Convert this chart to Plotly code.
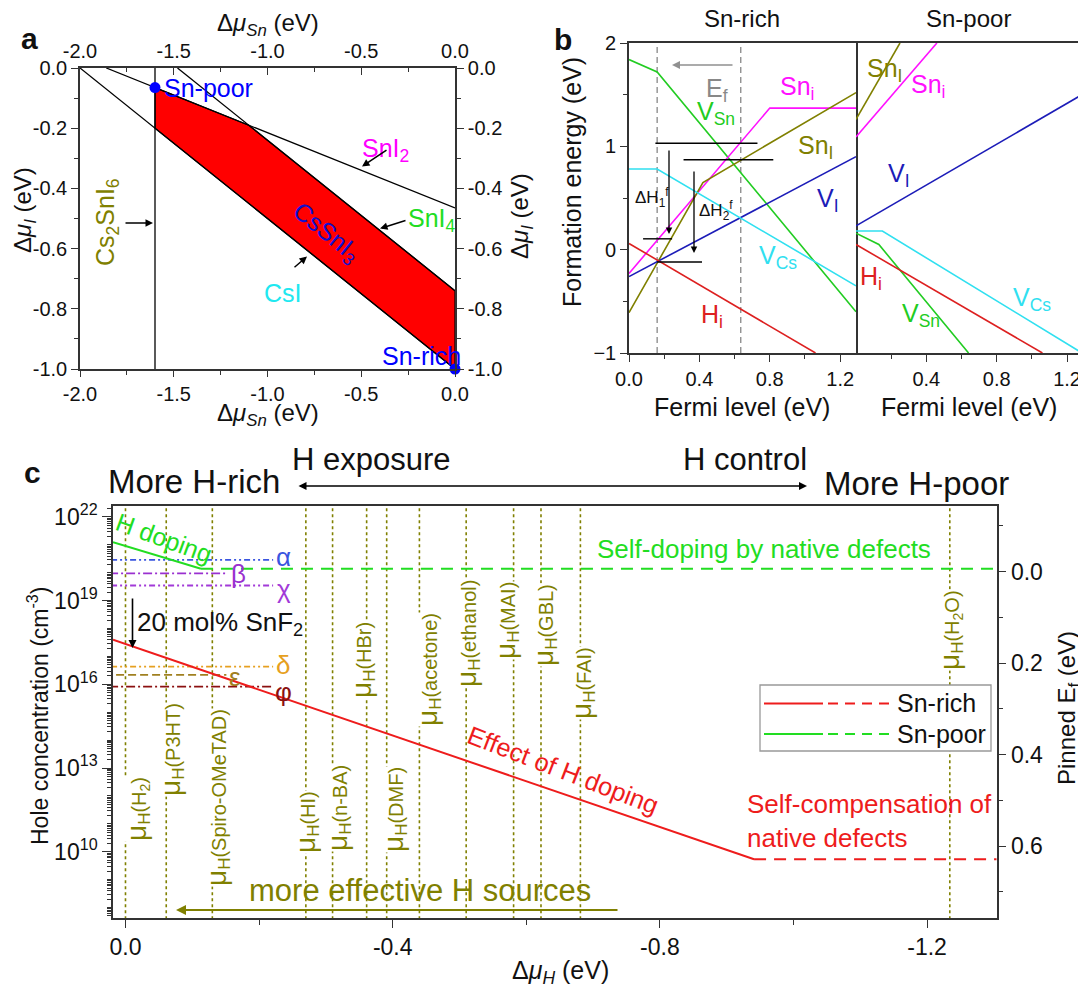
import plotly.graph_objects as go

# The page adds an 8 px body margin, so the figure is drawn 8 px smaller and
# every layout position (given in reference pixels) is shifted by that margin.
OFF = 8
W, H = 1086 - OFF, 996 - OFF
FONT = "Arial, Liberation Sans, Helvetica, sans-serif"


def PX(x):
    return (x - OFF) / W


def PY(y):
    return 1 - (y - OFF) / H


# ---------------- Panel a data ----------------
a_sn_ticks = [-2.0, -1.5, -1.0, -0.5, 0.0]
a_sn_ticktext = ["-2.0", "-1.5", "-1.0", "-0.5", "0.0"]
a_sn_minor = [-1.75, -1.25, -0.75, -0.25]
a_i_ticks = [0.0, -0.2, -0.4, -0.6, -0.8, -1.0]
a_i_ticktext = ["0.0", "-0.2", "-0.4", "-0.6", "-0.8", "-1.0"]
a_i_minor = [-0.1, -0.3, -0.5, -0.7, -0.9]

cs2sni6_x = [-1.6, -1.6]
cs2sni6_y = [0.0, -1.0]
csi_x = [-2.0, 0.0]
csi_y = [0.0, -1.0]
sni2_x = [-1.86, 0.0]
sni2_y = [0.0, -0.465]
sni4_x = [-1.48, 0.0]
sni4_y = [0.0, -0.74]
cssni3_x = [-1.6, -1.1, 0.0, 0.0, -1.6, -1.6]
cssni3_y = [-0.065, -0.19, -0.74, -1.0, -0.2, -0.065]
point_x = [-1.6, 0.0]
point_y = [-0.065, -1.0]

# ---------------- Panel b data ----------------
fermi_ticks = [0.0, 0.4, 0.8, 1.2]
fermi_ticktext = ["0.0", "0.4", "0.8", "1.2"]
fermi_minor = [0.2, 0.6, 1.0]
e_ticks = [-1, 0, 1, 2]
e_minor = [-0.5, 0.5, 1.5]

rich_vsn_x = [0.0, 0.16, 1.29]
rich_vsn_y = [1.84, 1.72, -0.60]
rich_sni_x = [0.0, 0.80, 1.29]
rich_sni_y = [-0.23, 1.37, 1.37]
rich_snI_x = [0.0, 0.42, 1.29]
rich_snI_y = [-0.61, 0.65, 1.52]
rich_vi_x = [0.0, 1.29]
rich_vi_y = [-0.26, 0.90]
rich_vcs_x = [0.0, 0.16, 1.29]
rich_vcs_y = [0.78, 0.78, -0.35]
rich_hi_x = [0.0, 1.06]
rich_hi_y = [0.06, -1.0]

poor_snI_x = [0.0, 0.25]
poor_snI_y = [1.26, 2.0]
poor_sni_x = [0.0, 0.46]
poor_sni_y = [1.09, 2.0]
poor_vi_x = [0.0, 1.285]
poor_vi_y = [0.23, 1.50]
poor_vcs_x = [0.0, 0.15, 1.285]
poor_vcs_y = [0.18, 0.18, -1.0]
poor_vsn_x = [0.0, 0.13, 0.64]
poor_vsn_y = [0.16, 0.05, -1.0]
poor_hi_x = [0.0, 1.06]
poor_hi_y = [0.05, -1.0]

ef_window = [0.16, 0.635]
level_x0 = [0.15, 0.31, 0.08, 0.16]
level_x1 = [0.73, 0.82, 0.245, 0.415]
level_y = [1.03, 0.87, 0.105, -0.12]

# ---------------- Panel c data ----------------
dmu_ticks = [0.0, -0.4, -0.8, -1.2]
dmu_ticktext = ["0.0", "-0.4", "-0.8", "-1.2"]
dmu_minor = [-0.2, -0.6, -1.0]
p_ticks = [1e10, 1e13, 1e16, 1e19, 1e22]
p_ticktext = ["10<sup>10</sup>", "10<sup>13</sup>", "10<sup>16</sup>", "10<sup>19</sup>", "10<sup>22</sup>"]
ef_ticks = [0.0, 0.2, 0.4, 0.6]
ef_ticktext = ["0.0", "0.2", "0.4", "0.6"]
ef_minor = [-0.1, 0.1, 0.3, 0.5, 0.7]

sn_rich_x = [0.0187, -0.941]
sn_rich_p = [4.0e17, 5.4e9]
sn_rich_flat_x = [-0.941, -1.35]
sn_rich_flat_p = [5.4e9, 5.4e9]
sn_poor_x = [0.0187, -0.113]
sn_poor_p = [1.26e21, 1.4e20]
sn_poor_flat_x = [-0.113, -1.35]
sn_poor_flat_p = [1.4e20, 1.4e20]

source_names = ["H<sub>2</sub>", "P3HT", "Spiro-OMeTAD", "HI", "n-BA", "HBr", "DMF",
                "acetone", "ethanol", "MAI", "GBL", "FAI", "H<sub>2</sub>O"]
source_mu = [0.0, -0.061, -0.130, -0.270, -0.310, -0.361, -0.391,
             -0.440, -0.510, -0.581, -0.622, -0.681, -1.234]
# label placement (pixel centres)
source_lab_x = [137, 171, 217, 306, 338, 362, 394, 428, 467, 506, 544, 582, 950]
source_lab_y = [809, 750, 798, 822, 808, 660, 810, 670, 634, 621, 625, 683, 630]

greek_names = ["α", "β", "χ", "δ", "ε", "φ"]
greek_p = [2.9e20, 9.5e19, 3.5e19, 4.3e16, 2.2e16, 8.3e15]
greek_end = [-0.221, -0.151, -0.221, -0.221, -0.151, -0.221]
greek_colors = ["#3a55e0", "#9a30d0", "#a23ad8", "#e6a020", "#a08020", "#8b1010"]
greek_dash = ["6px,3px,2px,3px,2px,3px", "9px,3px,2px,3px", "6px,3px,2px,3px,2px,3px",
              "6px,3px,2px,3px,2px,3px", "8px,4px", "9px,3px,2px,3px"]
greek_lab_x = [283, 238, 284, 283, 235, 283]
greek_lab_y = [557, 574, 589, 665, 677, 692]

# ---------------- colours ----------------
C_VSN = "#22cc22"
C_SNI = "#ff10ff"
C_SNIL = "#808000"
C_VI = "#1c1cb8"
C_VCS = "#30e0f0"
C_HI = "#dd2020"
OLIVE = "#808000"
RED = "#ee1c1c"
GREEN = "#22dd22"

fig = go.Figure()

# ---------- panel a traces ----------
fig.add_trace(go.Scatter(x=cssni3_x, y=cssni3_y, fill="toself", fillcolor="#ff0000",
                         mode="lines", line=dict(color="black", width=1.2),
                         xaxis="x", yaxis="y", showlegend=False, hoverinfo="skip"))
for lx, ly in [(cs2sni6_x, cs2sni6_y), (csi_x, csi_y), (sni2_x, sni2_y), (sni4_x, sni4_y)]:
    fig.add_trace(go.Scatter(x=lx, y=ly, mode="lines", line=dict(color="black", width=1.3),
                             xaxis="x", yaxis="y", showlegend=False, hoverinfo="skip"))
fig.add_trace(go.Scatter(x=point_x, y=point_y, mode="markers",
                         marker=dict(color="#0000ff", size=11), cliponaxis=False,
                         xaxis="x", yaxis="y", showlegend=False, hoverinfo="skip"))
fig.add_trace(go.Scatter(x=[-1.0], y=[-0.5], mode="markers", marker=dict(opacity=0),
                         xaxis="x2", yaxis="y2", showlegend=False, hoverinfo="skip"))


# ---------- panel b traces ----------
def bline(x, y, color, xa, ya, dash=None, width=1.6):
    fig.add_trace(go.Scatter(x=x, y=y, mode="lines", line=dict(color=color, width=width, dash=dash),
                             xaxis=xa, yaxis=ya, showlegend=False, hoverinfo="skip"))


for xv in ef_window:
    bline([xv, xv], [-1, 2], "#909090", "x3", "y3", dash="6px,4px", width=1.4)
bline(rich_vsn_x, rich_vsn_y, C_VSN, "x3", "y3")
bline(rich_sni_x, rich_sni_y, C_SNI, "x3", "y3")
bline(rich_snI_x, rich_snI_y, C_SNIL, "x3", "y3")
bline(rich_vi_x, rich_vi_y, C_VI, "x3", "y3")
bline(rich_vcs_x, rich_vcs_y, C_VCS, "x3", "y3")
bline(rich_hi_x, rich_hi_y, C_HI, "x3", "y3")
for x0, x1, yv in zip(level_x0, level_x1, level_y):
    bline([x0, x1], [yv, yv], "black", "x3", "y3", width=1.4)

bline(poor_snI_x, poor_snI_y, C_SNIL, "x4", "y4")
bline(poor_sni_x, poor_sni_y, C_SNI, "x4", "y4")
bline(poor_vi_x, poor_vi_y, C_VI, "x4", "y4")
bline(poor_vcs_x, poor_vcs_y, C_VCS, "x4", "y4")
bline(poor_vsn_x, poor_vsn_y, C_VSN, "x4", "y4")
bline(poor_hi_x, poor_hi_y, C_HI, "x4", "y4")

# ---------- panel c traces ----------
for mu in source_mu:
    fig.add_trace(go.Scatter(x=[mu, mu], y=[1e5, 1e25], mode="lines",
                             line=dict(color=OLIVE, width=1.6, dash="dot"),
                             xaxis="x5", yaxis="y5", showlegend=False, hoverinfo="skip"))
for pv, xe, col, dsh in zip(greek_p, greek_end, greek_colors, greek_dash):
    fig.add_trace(go.Scatter(x=[0.05, xe], y=[pv, pv], mode="lines",
                             line=dict(color=col, width=1.8, dash=dsh),
                             xaxis="x5", yaxis="y5", showlegend=False, hoverinfo="skip"))
fig.add_trace(go.Scatter(x=sn_poor_flat_x, y=sn_poor_flat_p, mode="lines",
                         line=dict(color=GREEN, width=2, dash="12px,8px"),
                         xaxis="x5", yaxis="y5", showlegend=False, hoverinfo="skip"))
fig.add_trace(go.Scatter(x=sn_poor_x, y=sn_poor_p, mode="lines",
                         line=dict(color=GREEN, width=2),
                         xaxis="x5", yaxis="y5", showlegend=False, hoverinfo="skip"))
fig.add_trace(go.Scatter(x=sn_rich_flat_x, y=sn_rich_flat_p, mode="lines",
                         line=dict(color=RED, width=2, dash="12px,8px"),
                         xaxis="x5", yaxis="y5", showlegend=False, hoverinfo="skip"))
fig.add_trace(go.Scatter(x=sn_rich_x, y=sn_rich_p, mode="lines",
                         line=dict(color=RED, width=2),
                         xaxis="x5", yaxis="y5", showlegend=False, hoverinfo="skip"))
fig.add_trace(go.Scatter(x=[-0.5], y=[0.3], mode="markers", marker=dict(opacity=0),
                         xaxis="x5", yaxis="y6", showlegend=False, hoverinfo="skip"))

# ---------- axes ----------
LINE = "#333333"
base = dict(showline=True, linecolor=LINE, linewidth=1.6, showgrid=False, zeroline=False,
            automargin=False, tickcolor=LINE, tickwidth=1.4,
            tickfont=dict(size=20, color="#111", family=FONT))
a_x = dict(range=[-2, 0], tickmode="array", tickvals=a_sn_ticks, ticktext=a_sn_ticktext)
a_y = dict(range=[-1, 0], tickmode="array", tickvals=a_i_ticks, ticktext=a_i_ticktext)


def mnr(vals, ticks="outside", ln=4):
    return dict(tickmode="array", tickvals=vals, ticks=ticks, ticklen=ln, tickcolor=LINE)


layout_axes = dict(
    xaxis=dict(domain=[PX(80), PX(455)], anchor="y", ticks="outside", ticklen=6,
               minor=mnr(a_sn_minor), **a_x, **base),
    yaxis=dict(domain=[PY(369), PY(68)], anchor="x", ticks="outside", ticklen=7,
               minor=mnr(a_i_minor), **a_y, **base),
    xaxis2=dict(overlaying="x", side="top", anchor="y2", ticks="inside", ticklen=7,
                minor=mnr(a_sn_minor, "inside"), **a_x, **base),
    yaxis2=dict(overlaying="y", side="right", anchor="x2", ticks="outside", ticklen=7,
                minor=mnr(a_i_minor), **a_y, **base),
    xaxis3=dict(domain=[PX(629), PX(856)], anchor="y3", range=[0, 1.29], mirror=True,
                tickmode="array", tickvals=fermi_ticks, ticktext=fermi_ticktext,
                ticks="outside", ticklen=7, minor=mnr(fermi_minor), **base),
    yaxis3=dict(domain=[PY(353), PY(43)], anchor="x3", range=[-1, 2], mirror=True,
                tickmode="array", tickvals=e_ticks, ticks="outside", ticklen=7,
                minor=mnr(e_minor), **base),
    xaxis4=dict(domain=[PX(856), PX(1082)], anchor="y4", range=[0, 1.285], mirror=True,
                tickmode="array", tickvals=fermi_ticks[1:], ticktext=fermi_ticktext[1:],
                ticks="outside", ticklen=7, minor=mnr(fermi_minor), **base),
    yaxis4=dict(domain=[PY(353), PY(43)], anchor="x4", range=[-1, 2], side="right",
                showticklabels=False, ticks="", **base),
)

c_base = dict(base)
c_base["tickfont"] = dict(size=23, color="#111", family=FONT)
minor_log = [k * 10.0 ** n for n in range(7, 23) for k in range(1, 10)]
layout_axes.update(
    xaxis5=dict(domain=[PX(113), PX(996.5)], anchor="y5", range=[0.0187, -1.3039], mirror=True,
                tickmode="array", tickvals=dmu_ticks, ticktext=dmu_ticktext,
                ticks="outside", ticklen=8, minor=mnr(dmu_minor, ln=5), **c_base),
    yaxis5=dict(domain=[PY(918), PY(506)], anchor="x5", type="log", range=[7.627, 22.394],
                tickmode="array", tickvals=p_ticks, ticktext=p_ticktext,
                ticks="outside", ticklen=9, minor=mnr(minor_log), **c_base),
    yaxis6=dict(overlaying="y5", side="right", anchor="x5", range=[0.7572, -0.1434],
                tickmode="array", tickvals=ef_ticks, ticktext=ef_ticktext,
                ticks="outside", ticklen=8, minor=mnr(ef_minor, ln=5), **c_base),
)

# ---------- annotations ----------
ann = []


def T(text, x, y, size=22, color="#111", angle=0, xanchor="center", yanchor="middle",
      bold=False, bg=None, align="center"):
    d = dict(text=("<b>%s</b>" % text) if bold else text, x=PX(x), y=PY(y), xref="paper",
             yref="paper", showarrow=False, textangle=angle, xanchor=xanchor, yanchor=yanchor,
             align=align, font=dict(size=size, color=color, family=FONT), borderpad=0)
    if bg:
        d["bgcolor"] = bg
    ann.append(d)


def A(head, tail, color="black", width=1.5, side="end", size=1.0):
    ann.append(dict(text="", x=PX(head[0]), y=PY(head[1]), xref="paper", yref="paper",
                    ax=tail[0] - head[0], ay=tail[1] - head[1], axref="pixel", ayref="pixel",
                    showarrow=True, arrowhead=2, arrowsize=size, arrowwidth=width,
                    arrowcolor=color, arrowside=side, standoff=0, startstandoff=0))


# panel a
T("a", 29, 38, size=30, bold=True)
T("Δ<i>μ</i><sub><i>Sn</i></sub> (eV)", 268, 24, size=24)
T("Δ<i>μ</i><sub><i>Sn</i></sub> (eV)", 268, 414, size=24)
T("Δ<i>μ</i><sub><i>I</i></sub> (eV)", 24, 210, size=24, angle=-90)
T("Δ<i>μ</i><sub><i>I</i></sub> (eV)", 521, 216, size=24, angle=-90)
T("Sn-poor", 163, 88, size=25, color="#0000ff", xanchor="left")
T("Sn-rich", 421, 356, size=25, color="#0000ff")
T("SnI<sub>2</sub>", 385, 150, size=25, color="#ff00ff")
A((362, 166.5), (388, 149))
T("SnI<sub>4</sub>", 432, 220, size=25, color="#22dd22")
A((380, 228.5), (407, 220))
T("CsI", 283, 293, size=25, color="#20e8f0")
A((307, 256.5), (293, 268.5))
T("CsSnI<sub>3</sub>", 326, 233, size=25, color="#1010d0", angle=39)
T("Cs<sub>2</sub>SnI<sub>6</sub>", 107, 222, size=25, color=OLIVE, angle=-90)
A((153, 223), (124, 223))

# panel b
T("b", 563, 40, size=30, bold=True)
T("Sn-rich", 742, 19, size=24)
T("Sn-poor", 968, 19, size=24)
T("Formation energy (eV)", 572, 182, size=25, angle=-90)
T("Fermi level (eV)", 742, 407, size=25)
T("Fermi level (eV)", 969, 407, size=25)
T("E<sub>f</sub>", 717, 90, size=25, color="#888888")
A((672, 65), (734, 65), color="#909090", width=1.6)
T("Sn<sub>i</sub>", 797, 88, size=25, color=C_SNI)
T("V<sub>Sn</sub>", 716, 113, size=25, color=C_VSN)
T("Sn<sub>I</sub>", 815, 147, size=25, color=C_SNIL)
T("V<sub>I</sub>", 828, 200, size=25, color=C_VI)
T("V<sub>Cs</sub>", 778, 257, size=25, color=C_VCS)
T("H<sub>i</sub>", 712, 316, size=25, color=C_HI)
T("ΔH<sub>1</sub><sup>f</sup>", 652, 198, size=17)
T("ΔH<sub>2</sub><sup>f</sup>", 716, 210, size=17)
A((669, 234), (669, 149), width=1.3)
A((694, 253), (694, 170), width=1.3)
T("Sn<sub>I</sub>", 884, 70, size=25, color=C_SNIL)
T("Sn<sub>i</sub>", 928, 86, size=25, color=C_SNI)
T("V<sub>I</sub>", 899, 175, size=25, color=C_VI)
T("H<sub>i</sub>", 871, 278, size=25, color=C_HI)
T("V<sub>Sn</sub>", 921, 315, size=25, color=C_VSN)
T("V<sub>Cs</sub>", 1032, 299, size=25, color=C_VCS)

# panel c
T("c", 32, 472, size=30, bold=True)
T("More H-rich", 194, 482, size=33)
T("H exposure", 371, 459, size=31)
T("H control", 745, 459, size=31)
T("More H-poor", 916, 483, size=33)
A((807, 486), (297, 486), width=1.6, side="end+start")
T("Hole concentration (cm<sup>-3</sup>)", 38, 716, size=23, angle=-90)
T("Pinned E<sub>f</sub> (eV)", 1068, 708, size=24, angle=-90)
T("Δ<i>μ</i><sub><i>H</i></sub> (eV)", 560, 972, size=25)
for name, lx, ly in zip(source_names, source_lab_x, source_lab_y):
    lab = ('<span style="font-size:28px">μ</span><sub><span style="font-size:17px">H</span></sub>'
           '(%s)' % name)
    T(lab, lx, ly, size=20, color=OLIVE, angle=-90, bg="white")
for name, col, lx, ly in zip(greek_names, greek_colors, greek_lab_x, greek_lab_y):
    T(name, lx, ly, size=26, color=col)
T("H doping", 164, 538, size=25, color=GREEN, angle=20)
T("Self-doping by native defects", 764, 549, size=26, color=GREEN)
T("20 mol% SnF<sub>2</sub>", 220, 623, size=26)
A((132.5, 648), (132.5, 597), width=1.6)
T("Effect of H doping", 563, 770, size=25.5, color=RED, angle=21)
T("Self-compensation of<br>native defects", 746, 821, size=26, color=RED, xanchor="left",
  align="left")
T("more effective H sources", 420, 890, size=31, color=OLIVE)
A((176, 910), (619, 910), color=OLIVE, width=2)

# legend (drawn manually: solid + dashed samples)
shapes = [dict(type="rect", xref="paper", yref="paper", x0=PX(760), x1=PX(991), y0=PY(751),
               y1=PY(685), line=dict(color="#999999", width=1.3), fillcolor="white", layer="above")]
for col, yy in [(RED, 703.5), (GREEN, 734)]:
    shapes.append(dict(type="line", xref="paper", yref="paper", x0=PX(764), x1=PX(823),
                       y0=PY(yy), y1=PY(yy), line=dict(color=col, width=2), layer="above"))
    shapes.append(dict(type="line", xref="paper", yref="paper", x0=PX(828), x1=PX(889),
                       y0=PY(yy), y1=PY(yy), line=dict(color=col, width=2, dash="10px,7px"),
                       layer="above"))
T("Sn-rich", 896, 703, size=25, xanchor="left")
T("Sn-poor", 896, 734, size=25, xanchor="left")

fig.update_layout(width=W, height=H, margin=dict(l=0, r=0, t=0, b=0, pad=0), paper_bgcolor="white",
                  plot_bgcolor="rgba(0,0,0,0)", font=dict(family=FONT, color="#111"),
                  showlegend=False, annotations=ann, shapes=shapes, **layout_axes)
fig.write_html("out.html")
